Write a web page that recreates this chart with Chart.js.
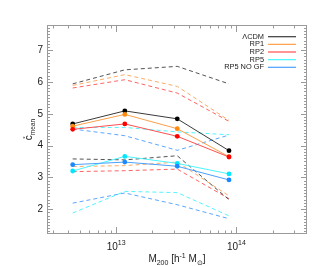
<!DOCTYPE html>
<html><head><meta charset="utf-8">
<script src="https://cdn.jsdelivr.net/npm/chart.js@4"></script>
<style>html,body{margin:0;padding:0;background:#fff}#w{width:319px;height:266px;position:relative}</style>
</head><body><div id="w"><canvas id="c"></canvas></div>
<script>
// ---- data ----
const masses = [4.35e12, 1.18e13, 3.22e13, 8.67e13];
const seriesNames = ["\u039BCDM", "RP1", "RP2", "RP5", "RP5 NO GF"];
const lcdm    = [4.68, 5.09, 4.84, 3.84];
const rp1     = [4.61, 4.98, 4.53, 3.65];
const rp2     = [4.51, 4.68, 4.29, 3.64];
const rp5     = [3.20, 3.66, 3.44, 3.11];
const rp5nogf = [3.40, 3.48, 3.35, 2.92];
const lcdmHi    = [5.94, 6.38, 6.49, 5.94];
const rp1Hi     = [5.89, 6.23, 5.86, 4.79];
const rp2Hi     = [5.81, 6.07, 5.65, 4.76];
const rp5Hi     = [4.57, 4.57, 4.43, 4.34];
const rp5nogfHi = [4.52, 4.31, 3.85, 4.33];
const lcdmLo    = [3.58, 3.55, 3.68, 2.30];
const rp1Lo     = [3.34, 3.37, 3.48, 2.42];
const rp2Lo     = [3.18, 3.21, 3.26, 2.33];
const rp5Lo     = [1.88, 2.56, 2.52, 1.79];
const rp5nogfLo = [2.19, 2.51, 2.14, 1.70];
const yTickLabels = [2, 3, 4, 5, 6, 7];
const xMajorTicks = [1e13, 1e14];
const xMajorLabels = [["10","13"], ["10","14"]];
const xMinorTicks = [3e12,4e12,5e12,6e12,7e12,8e12,9e12,2e13,3e13,4e13,5e13,6e13,7e13,8e13,9e13,2e14,3e14];

// ---- styles ----
const lineCols = ["#3a3a3a", "#ffa04a", "#ff5050", "#4af5ff", "#4aa0ff"];
const dashCols = ["rgba(40,40,40,0.8)", "rgba(255,150,60,0.8)", "rgba(255,60,60,0.8)", "rgba(40,240,255,0.8)", "rgba(50,145,255,0.8)"];
const dotCols  = ["#000000", "#ff8a10", "#ff0000", "#00e8ff", "#1a88ff"];
const mids = [lcdm, rp1, rp2, rp5, rp5nogf];
const his = [lcdmHi, rp1Hi, rp2Hi, rp5Hi, rp5nogfHi];
const los = [lcdmLo, rp1Lo, rp2Lo, rp5Lo, rp5nogfLo];
const pts = arr => arr.map((v, i) => ({x: masses[i], y: v}));

const datasets = [];
for (let i = 0; i < 5; i++) {
  for (const arr of [his[i], los[i]]) {
    datasets.push({data: pts(arr), borderColor: dashCols[i], borderWidth: 1, borderDash: [4, 3],
      pointRadius: 0, fill: false, tension: 0, order: 10});
  }
}
for (let i = 0; i < 5; i++) {
  datasets.push({label: seriesNames[i], data: pts(mids[i]), borderColor: lineCols[i], borderWidth: 1,
    pointRadius: 2.4, pointBackgroundColor: dotCols[i], pointBorderWidth: 0, fill: false, tension: 0, order: 5 - i});
}

const FONT = '"Liberation Sans", Arial, sans-serif';
const deco = {
  id: 'deco',
  afterDraw(chart) {
    const ctx = chart.ctx, a = chart.chartArea, xs = chart.scales.x, ys = chart.scales.y;
    ctx.save();
    ctx.strokeStyle = '#9a9a9a'; ctx.lineWidth = 1;
    ctx.strokeRect(Math.round(a.left) + 0.5, Math.round(a.top) + 0.5, Math.round(a.right - a.left) - 1, Math.round(a.bottom - a.top) - 1);
    // ticks
    ctx.beginPath();
    for (let k = Math.ceil(ys.min * 10); k <= Math.floor(ys.max * 10); k++) {
      const y = Math.round(ys.getPixelForValue(k / 10)) + 0.5;
      const len = (k % 10 === 0) ? 6 : 3;
      ctx.moveTo(a.left, y); ctx.lineTo(a.left + len, y);
      ctx.moveTo(a.right, y); ctx.lineTo(a.right - len, y);
    }
    for (const v of xMinorTicks.concat(xMajorTicks)) {
      const x = Math.round(xs.getPixelForValue(v)) + 0.5;
      const len = xMajorTicks.includes(v) ? 7 : 3.5;
      ctx.moveTo(x, a.bottom); ctx.lineTo(x, a.bottom - len);
      ctx.moveTo(x, a.top); ctx.lineTo(x, a.top + len);
    }
    ctx.stroke();
    // y labels
    ctx.fillStyle = '#1a1a1a';
    ctx.font = '10px ' + FONT; ctx.textAlign = 'right'; ctx.textBaseline = 'middle';
    for (const v of yTickLabels) ctx.fillText(String(v), a.left - 4, ys.getPixelForValue(v));
    // x labels
    ctx.textBaseline = 'alphabetic';
    xMajorTicks.forEach((v, i) => {
      const x = xs.getPixelForValue(v);
      ctx.font = '10px ' + FONT;
      const w1 = ctx.measureText(xMajorLabels[i][0]).width;
      ctx.font = '7px ' + FONT;
      const w2 = ctx.measureText(xMajorLabels[i][1]).width;
      const x0 = x - (w1 + w2) / 2;
      ctx.textAlign = 'left';
      ctx.font = '10px ' + FONT; ctx.fillText(xMajorLabels[i][0], x0, a.bottom + 16);
      ctx.font = '7px ' + FONT; ctx.fillText(xMajorLabels[i][1], x0 + w1, a.bottom + 11);
    });
    // x title
    const parts = [["M", 10, 0], ["200", 7, 2.5], [" [h", 10, 0], ["-1", 7, -4], [" M", 10, 0], ["\u2299", 7, 2.5], ["]", 10, 0]];
    let tw = 0;
    for (const p of parts) { ctx.font = p[1] + 'px ' + FONT; tw += ctx.measureText(p[0]).width; }
    let xx = (a.left + a.right) / 2 - tw / 2; const by = a.bottom + 28;
    ctx.textAlign = 'left';
    for (const p of parts) { ctx.font = p[1] + 'px ' + FONT; ctx.fillText(p[0], xx, by + p[2]); xx += ctx.measureText(p[0]).width; }
    // y title
    ctx.save();
    ctx.translate(a.left - 15, (a.top + a.bottom) / 2);
    ctx.rotate(-Math.PI / 2);
    ctx.font = '10px ' + FONT; const wc = ctx.measureText('c').width;
    ctx.font = '6.5px ' + FONT; const wm = ctx.measureText('mean').width;
    const sx = -(wc + wm) / 2;
    ctx.font = '10px ' + FONT; ctx.fillText('c', sx, 0);
    ctx.font = '6px ' + FONT; ctx.fillText('*', sx + 1.5, -5);
    ctx.font = '6.5px ' + FONT; ctx.fillText('mean', sx + wc, 2.5);
    ctx.restore();
    // legend
    ctx.font = '7.4px ' + FONT; ctx.textAlign = 'right'; ctx.textBaseline = 'middle';
    for (let i = 0; i < 5; i++) {
      const y = a.top + 11.7 + i * 7.65;
      ctx.fillStyle = '#1a1a1a';
      ctx.fillText(seriesNames[i], a.left + 217, y);
      ctx.strokeStyle = lineCols[i]; ctx.lineWidth = 1.2;
      ctx.beginPath(); ctx.moveTo(a.left + 221, y); ctx.lineTo(a.left + 249, y); ctx.stroke();
    }
    ctx.restore();
  }
};

new Chart(document.getElementById('c'), {
  type: 'line',
  data: {datasets},
  options: {
    responsive: true, maintainAspectRatio: false, animation: false, devicePixelRatio: 1,
    layout: {padding: {left: 47, right: 12, top: 25, bottom: 32}},
    plugins: {legend: {display: false}, tooltip: {enabled: false}},
    scales: {
      x: {type: 'logarithmic', min: 2.66e12, max: 3.86e14, display: false},
      y: {type: 'linear', min: 1.22, max: 7.79, display: false}
    }
  },
  plugins: [deco]
});
</script></body></html>
